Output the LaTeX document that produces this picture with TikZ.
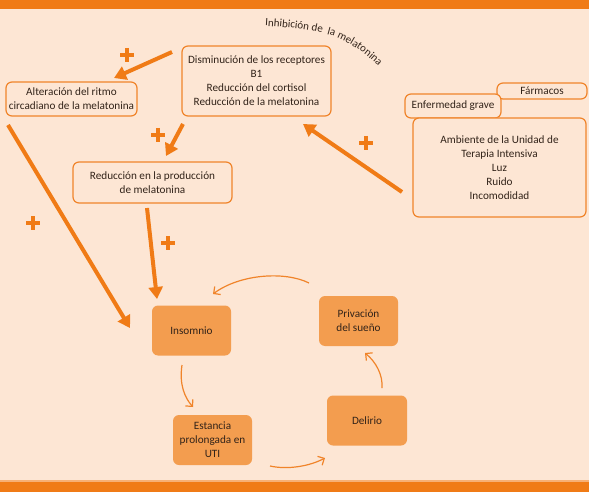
\documentclass[tikz,border=0pt]{standalone}
\usepackage{fontspec}
\setmainfont{Carlito}
\usetikzlibrary{arrows.meta,decorations.text}
\definecolor{barorange}{RGB}{240,123,22}
\definecolor{paleback}{RGB}{253,230,212}
\definecolor{boxline}{RGB}{240,132,42}
\definecolor{boxfill}{RGB}{243,157,79}
\definecolor{darktext}{RGB}{50,35,25}

\begin{document}
\begin{tikzpicture}[x=1pt,y=-1pt]
% Styles
\tikzstyle{none}=[inner sep=0pt]
\tikzstyle{outlinebox}=[draw=boxline, fill=paleback, line width=1.2pt, rounded corners=6pt, align=center, inner sep=0pt, text=darktext, font=\fontsize{11.2}{14}\selectfont]
\tikzstyle{filledbox}=[fill=boxfill, rounded corners=6pt, align=center, inner sep=0pt, minimum width=79pt, minimum height=50pt, text=darktext, font=\fontsize{11.2}{14}\selectfont]
\tikzstyle{bigarrow}=[draw=barorange, line width=4pt, -{Triangle[width=14pt,length=12pt]}]
\tikzstyle{thinarrow}=[draw=boxline, line width=1.2pt, -{Straight Barb[length=5pt,width=10pt]}]
\tikzstyle{plussign}=[minimum size=14pt, inner sep=0pt, path picture={\draw[line width=4.5pt, barorange] (path picture bounding box.north) -- (path picture bounding box.south) (path picture bounding box.west) -- (path picture bounding box.east);}]

% background and bars
\useasboundingbox (0,0) rectangle (589,492);
\fill[paleback] (0,0) rectangle (589,492);
\fill[barorange] (0,0) rectangle (589,9);
\fill[barorange!50!paleback] (0,480) rectangle (589,482);
\fill[barorange] (0,482) rectangle (589,492);

\node [style=outlinebox, minimum width=131pt, minimum height=34pt] (1) at (71.5, 99) {Alteración del ritmo\\circadiano de la melatonina};
\node [style=outlinebox, minimum width=149pt, minimum height=70pt] (2) at (256.5, 81) {Disminución de los receptores\\B1\\Reducción del cortisol\\Reducción de la melatonina};
\node [style=outlinebox, minimum width=159pt, minimum height=41pt] (3) at (152.5, 182.5) {Reducción en la producción\\de melatonina};
\node [style=outlinebox, minimum width=90pt, minimum height=16pt] (4) at (542, 91) {Fármacos};
\node [style=outlinebox, minimum width=96pt, minimum height=24pt] (5) at (453, 106) {Enfermedad grave};
\node [style=outlinebox, minimum width=173pt, minimum height=99pt] (6) at (499.5, 167.5) {Ambiente de la Unidad de\\Terapia Intensiva\\Luz\\Ruido\\Incomodidad};
\node [style=filledbox] (7) at (191.5, 330.5) {Insomnio};
\node [style=filledbox] (8) at (212.5, 440) {Estancia\\prolongada en\\UTI};
\node [style=filledbox] (9) at (358.5, 321) {Privación\\del sueño};
\node [style=filledbox, minimum width=80pt] (10) at (367, 420.5) {Delirio};

\coordinate (11) at (172, 52);
\coordinate (12) at (114, 78);
\coordinate (13) at (183, 124);
\coordinate (14) at (166, 156);
\coordinate (15) at (402, 192);
\coordinate (16) at (303, 124);
\coordinate (17) at (8, 125);
\coordinate (18) at (130, 328);
\coordinate (19) at (147, 208);
\coordinate (20) at (157, 299);
\coordinate (21) at (182, 365);
\coordinate (22) at (193, 407);
\coordinate (23) at (270, 466);
\coordinate (24) at (325, 458);
\coordinate (25) at (382, 388);
\coordinate (26) at (365, 353);
\coordinate (27) at (309, 283);
\coordinate (28) at (213, 294);

\node [style=plussign] (29) at (127, 55) {};
\node [style=plussign] (30) at (158, 135) {};
\node [style=plussign] (31) at (366, 143) {};
\node [style=plussign] (32) at (33, 223) {};
\node [style=plussign] (33) at (168, 243) {};

\draw [style=bigarrow] (11) to (12);
\draw [style=bigarrow] (13) to (14);
\draw [style=bigarrow] (15) to (16);
\draw [style=bigarrow] (17) to (18);
\draw [style=bigarrow] (19) to (20);
\draw [style=thinarrow] (21) .. controls (179, 385) and (185, 398) .. (22);
\draw [style=thinarrow] (23) .. controls (288, 470) and (310, 466) .. (24);
\draw [style=thinarrow] (25) .. controls (383, 375) and (376, 362) .. (26);
\draw [style=thinarrow] (27) .. controls (285, 271) and (240, 274) .. (28);

\path [decorate, decoration={text along path, text color=darktext, text align=left, text={|\fontsize{11}{11}\selectfont|Inhibición de{ }{ }la melatonina}}] (265, 26) .. controls (298, 28) and (318, 31) .. (336, 37) .. controls (355, 45) and (372, 58) .. (392, 80);
\end{tikzpicture}
\end{document}
